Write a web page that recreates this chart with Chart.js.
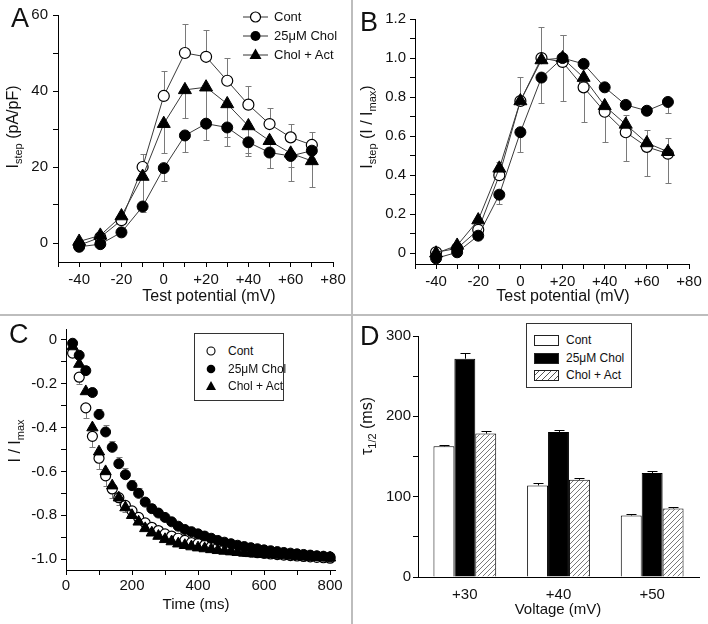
<!DOCTYPE html>
<html><head><meta charset="utf-8">
<script src="https://cdn.jsdelivr.net/npm/chart.js@4.4.1/dist/chart.umd.min.js"></script>
<style>
html,body{margin:0;padding:0;background:#fff;}
body{width:708px;height:624px;position:relative;overflow:hidden;font-family:Arial,"Liberation Sans",Helvetica,sans-serif;color:#111;}
canvas{position:absolute;}
.letter{position:absolute;font-size:27px;line-height:1;color:#111;}
.vdiv{position:absolute;left:351px;top:0;width:2px;height:624px;background:#bdbdbd;}
.hdiv{position:absolute;left:0;top:314px;width:708px;height:2px;background:#bdbdbd;}
.lt{position:absolute;white-space:nowrap;line-height:16px;height:16px;}
svg{position:absolute;overflow:visible;}
.box{position:absolute;border:1px solid #333;box-sizing:border-box;background:#fff;}
.sw{position:absolute;border:1px solid #222;box-sizing:border-box;}
</style>
</head><body>
<canvas id="cA" width="351" height="314" style="left:0;top:0"></canvas>
<canvas id="cB" width="355" height="314" style="left:353px;top:0"></canvas>
<canvas id="cC" width="351" height="308" style="left:0;top:316px"></canvas>
<canvas id="cD" width="355" height="308" style="left:353px;top:316px"></canvas>
<div class="vdiv"></div><div class="hdiv"></div>
<div class="letter" style="left:11px;top:5px">A</div>
<div class="letter" style="left:360px;top:9px">B</div>
<div class="letter" style="left:9px;top:321px">C</div>
<div class="letter" style="left:360px;top:323px">D</div>

<!-- Legend A -->
<svg style="left:243px;top:9px" width="25" height="16"><line x1="0" y1="8" x2="25" y2="8" stroke="#333" stroke-width="1"/><circle cx="12.5" cy="8" r="5" fill="#fff" stroke="#000" stroke-width="1.2"/></svg>
<div class="lt" style="left:274px;top:9px;font-size:13px">Cont</div>
<svg style="left:243px;top:28px" width="25" height="16"><line x1="0" y1="8" x2="25" y2="8" stroke="#333" stroke-width="1"/><circle cx="12.5" cy="8" r="5" fill="#000"/></svg>
<div class="lt" style="left:274px;top:28px;font-size:13px">25μM Chol</div>
<svg style="left:243px;top:47px" width="25" height="16"><line x1="0" y1="8" x2="25" y2="8" stroke="#333" stroke-width="1"/><polygon points="12.5,1.5 18.5,12 6.5,12" fill="#000"/></svg>
<div class="lt" style="left:274px;top:47px;font-size:13px">Chol + Act</div>

<!-- Legend C -->
<div class="box" style="left:194px;top:333px;width:90px;height:68px"></div>
<svg style="left:205px;top:345px" width="12" height="12"><circle cx="6" cy="6" r="4" fill="#fff" stroke="#000" stroke-width="1.1"/></svg>
<div class="lt" style="left:228px;top:343px;font-size:12px">Cont</div>
<svg style="left:205px;top:363px" width="12" height="12"><circle cx="6" cy="6" r="4.3" fill="#000"/></svg>
<div class="lt" style="left:228px;top:361px;font-size:12px">25μM Chol</div>
<svg style="left:205px;top:380px" width="12" height="12"><polygon points="6,1 11,10 1,10" fill="#000"/></svg>
<div class="lt" style="left:228px;top:378px;font-size:12px">Chol + Act</div>

<!-- Legend D -->
<div class="box" style="left:526px;top:323px;width:106px;height:65px"></div>
<div class="sw" style="left:534px;top:335px;width:25px;height:11px;background:#fff"></div>
<div class="lt" style="left:566px;top:332px;font-size:12px">Cont</div>
<div class="sw" style="left:534px;top:353px;width:25px;height:11px;background:#000"></div>
<div class="lt" style="left:566px;top:350px;font-size:12px">25μM Chol</div>
<div class="sw" style="left:534px;top:370px;width:25px;height:11px;background:repeating-linear-gradient(135deg,#fff 0 2.5px,#555 2.5px 3.3px,#fff 3.3px 4.2px)"></div>
<div class="lt" style="left:566px;top:367px;font-size:12px">Chol + Act</div>

<script>
// ---------------- DATA ----------------
// Panels A and B: test potentials (mV)
const voltsAB = [-40,-30,-20,-10,0,10,20,30,40,50,60,70];
// Panel A: I_step (pA/pF)
const contA   = [-0.6,1.5,6,20,38.7,50,49,42.7,36.4,31.3,27.8,25.8];
const contAUp = [0,0,0,3.5,6.5,7.7,7,5.9,5,4.1,3.6,3.5];
const cholA   = [-1,-0.3,2.8,9.6,19.7,28.3,31.4,30.4,26.5,23.8,22.9,24.3];
const cholADn = [0,0,0,1.5,3.5,4.3,4.3,4.8,3.5,4.1,3,2];
const actA    = [0.4,2,7.1,17.5,31.4,40.3,41,36.6,30.8,26.9,23.6,21.6];
const actADn  = [0,0,0,7.2,7.6,7.4,8.5,8.6,7.2,7.2,7.4,6.9];
// Panel B: I_step (I / I_max)
const contB   = [0.005,0.025,0.12,0.40,0.78,1.0,0.98,0.85,0.725,0.62,0.545,0.51];
const contBUp = [0,0,0,0,0.125,0.16,0.14,0,0,0,0,0];
const contBDn = [0,0,0,0,0,0,0.2,0.18,0.155,0.145,0.15,0.15];
const cholB   = [-0.026,0.005,0.09,0.30,0.62,0.90,1.0,0.97,0.85,0.76,0.73,0.775];
const cholBUp = [0,0,0,0,0,0,0.12,0,0,0,0,0];
const cholBDn = [0,0,0,0.05,0.1,0.13,0,0,0,0,0,0.055];
const actB    = [0.0,0.04,0.17,0.435,0.78,0.99,1.0,0.90,0.755,0.66,0.565,0.52];
const actBUp  = [0,0,0,0.035,0,0,0,0,0,0.05,0.065,0.07];
// Panel C: time (ms) and I / I_max
const timeC = [20,40,60,80,100,120,140,160,180,200,220,240,260,280,300,320,340,360,380,400,
               420,440,460,480,500,520,540,560,580,600,620,640,660,680,700,720,740,760,780,800];
const contC = [-0.06,-0.17,-0.31,-0.44,-0.54,-0.62,-0.68,-0.72,-0.755,-0.78,-0.81,-0.835,-0.855,-0.87,-0.885,-0.895,-0.905,-0.915,-0.925,-0.93,
               -0.937,-0.943,-0.948,-0.953,-0.957,-0.961,-0.965,-0.968,-0.971,-0.974,-0.977,-0.98,-0.982,-0.984,-0.986,-0.988,-0.99,-0.992,-0.994,-0.996];
const contCDn = [0,0.03,0.045,0.05,0.05,0.045,0.04,0.035,0.03,0.025,0.02,0.015,0,0,0,0,0,0,0,0,
                 0,0,0,0,0,0,0,0,0,0,0,0,0,0,0,0,0,0,0,0];
const cholC = [-0.015,-0.07,-0.14,-0.24,-0.34,-0.42,-0.49,-0.565,-0.615,-0.665,-0.70,-0.74,-0.77,-0.79,-0.81,-0.83,-0.85,-0.865,-0.875,-0.885,
               -0.895,-0.905,-0.915,-0.923,-0.93,-0.937,-0.943,-0.948,-0.953,-0.958,-0.962,-0.966,-0.97,-0.973,-0.976,-0.979,-0.982,-0.985,-0.987,-0.99];
const cholCUp = [0,0,0.02,0.02,0.025,0.03,0.03,0.03,0.03,0.025,0.025,0.02,0.02,0.02,0.015,0,0,0,0,0,
                 0,0,0,0,0,0,0,0,0,0,0,0,0,0,0,0,0,0,0,0];
const actC  = [-0.03,-0.11,-0.235,-0.40,-0.51,-0.60,-0.665,-0.72,-0.765,-0.80,-0.83,-0.86,-0.88,-0.895,-0.91,-0.92,-0.93,-0.937,-0.943,-0.948,
               -0.952,-0.956,-0.96,-0.963,-0.966,-0.969,-0.972,-0.974,-0.976,-0.978,-0.98,-0.982,-0.984,-0.986,-0.988,-0.99,-0.991,-0.992,-0.993,-0.994];
// Panel D: tau 1/2 (ms)
const voltsD  = ['+30','+40','+50'];
const contD   = [162.7,114,76.6];
const contDEr = [2.1,2.5,1.6];
const cholD   = [271.7,180.6,129.4];
const cholDEr = [7.1,2.4,2.1];
const actD    = [178.5,121,85.3];
const actDEr  = [2.9,1.8,1.3];
// Ticks
const xTicksAB = [-50,-40,-30,-20,-10,0,10,20,30,40,50,60,70,80];
const xMajorAB = [-40,-20,0,20,40,60,80];
const xLabelAB = ['-40','-20','0','+20','+40','+60','+80'];
const yTicksA  = [0,10,20,30,40,50,60];
const yMajorA  = [0,20,40,60];
const yLabelA  = ['0','20','40','60'];
const yTicksB  = [0,0.1,0.2,0.3,0.4,0.5,0.6,0.7,0.8,0.9,1.0,1.1,1.2];
const yMajorB  = [0,0.2,0.4,0.6,0.8,1.0,1.2];
const yLabelB  = ['0','0.2','0.4','0.6','0.8','1.0','1.2'];
const xTicksC  = [0,100,200,300,400,500,600,700,800];
const xMajorC  = [0,200,400,600,800];
const xLabelC  = ['0','200','400','600','800'];
const yTicksC  = [-1.0,-0.9,-0.8,-0.7,-0.6,-0.5,-0.4,-0.3,-0.2,-0.1,0];
const yMajorC  = [-1.0,-0.8,-0.6,-0.4,-0.2,0];
const yLabelC  = ['-1.0','-0.8','-0.6','-0.4','-0.2','0'];
const yTicksD  = [0,50,100,150,200,250,300];
const yMajorD  = [0,100,200,300];
const yLabelD  = ['0','100','200','300'];

// ---------------- HELPERS ----------------
const FONT = 'Arial, "Liberation Sans", Helvetica, sans-serif';
function lab(v, majors, labels){ const i = majors.findIndex(m => Math.abs(m - v) < 1e-6); return i < 0 ? '' : labels[i]; }
function linAxis(o){
  return {
    type:'linear', position:o.pos, min:o.min, max:o.max,
    afterBuildTicks: s => { s.ticks = o.ticks.map(v => ({value:v})); },
    afterFit: s => { if (o.pos === 'left') s.width = o.size; else s.height = o.size; },
    ticks:{autoSkip:false, maxRotation:0, padding:o.pad, color:'#111', font:{family:FONT, size:15},
           callback: v => lab(v, o.majors, o.labels)},
    grid:{drawOnChartArea:false, tickLength:5, color:'#000', tickWidth:1},
    border:{color:'#000', width:1},
    title:{display:false}
  };
}
function pts(xs, ys){ return xs.map((x,i) => ({x:x, y:ys[i]})); }

const errorBars = {
  id:'errorBars',
  beforeDatasetsDraw(chart){
    const ctx = chart.ctx, ys = chart.scales.y;
    chart.data.datasets.forEach((ds, di) => {
      if (!ds.errUp && !ds.errDn) return;
      const meta = chart.getDatasetMeta(di);
      ctx.save(); ctx.strokeStyle = ds.errColor || '#7a7a7a'; ctx.lineWidth = 1;
      meta.data.forEach((el, i) => {
        const d = ds.data[i]; const v = (typeof d === 'object') ? d.y : d;
        const x = Math.round(el.x) + 0.5, cap = ds.errCap || 3;
        [[ds.errUp, 1], [ds.errDn, -1]].forEach(([arr, s]) => {
          if (!arr || !arr[i]) return;
          const y0 = ys.getPixelForValue(v), y1 = Math.round(ys.getPixelForValue(v + s * arr[i])) + 0.5;
          ctx.beginPath(); ctx.moveTo(x, y0); ctx.lineTo(x, y1);
          ctx.moveTo(x - cap, y1); ctx.lineTo(x + cap, y1); ctx.stroke();
        });
      });
      ctx.restore();
    });
  }
};
function textPlugin(items){
  return {
    id:'texts',
    afterDraw(chart){
      const ctx = chart.ctx;
      items.forEach(it => {
        ctx.save(); ctx.translate(it.x, it.y); if (it.rot) ctx.rotate(-Math.PI/2);
        ctx.fillStyle = '#111'; ctx.textBaseline = 'middle'; ctx.textAlign = 'left';
        const big = it.size + 'px ' + FONT, small = Math.round(it.size*0.7) + 'px ' + FONT;
        const ws = it.parts.map(p => { ctx.font = p.s ? small : big; return ctx.measureText(p.t).width; });
        let cx = -ws.reduce((a,b) => a+b, 0) / 2;
        it.parts.forEach((p, k) => { ctx.font = p.s ? small : big; ctx.fillText(p.t, cx, p.s ? it.size*0.28 : 0); cx += ws[k]; });
        ctx.restore();
      });
    }
  };
}
const base = {responsive:false, animation:false, events:[], plugins:{legend:{display:false}, tooltip:{enabled:false}}};
function ptsDs(label, data, style, extra){
  return Object.assign({label, data, showLine:true, borderColor:'#3a3a3a', borderWidth:1, clip:false,
    pointStyle: style.ps, pointRadius: style.r, pointBackgroundColor: style.fill, pointBorderColor:'#000',
    pointBorderWidth: style.bw}, extra);
}
const OPEN = {ps:'circle', r:5.5, fill:'#fff', bw:1.2};
const FILL = {ps:'circle', r:5.5, fill:'#000', bw:1};
const TRI  = {ps:'triangle', r:7.5, fill:'#000', bw:1};

// ---------------- PANEL A ----------------
new Chart(document.getElementById('cA'), {
  type:'line',
  data:{datasets:[
    ptsDs('Cont', pts(voltsAB, contA), OPEN, {order:3, errUp:contAUp}),
    ptsDs('25μM Chol', pts(voltsAB, cholA), FILL, {order:2, errDn:cholADn}),
    ptsDs('Chol + Act', pts(voltsAB, actA), TRI, {order:1, errDn:actADn})
  ]},
  options:Object.assign({}, base, {
    layout:{padding:{left:0, top:15, right:18, bottom:0}},
    scales:{
      x: linAxis({pos:'bottom', min:-50, max:80, ticks:xTicksAB, majors:xMajorAB, labels:xLabelAB, size:52, pad:4}),
      y: linAxis({pos:'left', min:-5, max:60, ticks:yTicksA, majors:yMajorA, labels:yLabelA, size:58, pad:5})
    }
  }),
  plugins:[errorBars, textPlugin([
    {x:209, y:297, size:16, parts:[{t:'Test potential (mV)'}]},
    {x:14, y:127, size:16, rot:true, parts:[{t:'I'},{t:'step', s:true},{t:' (pA/pF)'}]}
  ])]
});

// ---------------- PANEL B ----------------
new Chart(document.getElementById('cB'), {
  type:'line',
  data:{datasets:[
    ptsDs('Cont', pts(voltsAB, contB), OPEN, {order:3, errUp:contBUp, errDn:contBDn}),
    ptsDs('25μM Chol', pts(voltsAB, cholB), FILL, {order:2, errUp:cholBUp, errDn:cholBDn}),
    ptsDs('Chol + Act', pts(voltsAB, actB), TRI, {order:1, errUp:actBUp})
  ]},
  options:Object.assign({}, base, {
    layout:{padding:{left:0, top:19, right:19, bottom:0}},
    scales:{
      x: linAxis({pos:'bottom', min:-50, max:80, ticks:xTicksAB, majors:xMajorAB, labels:xLabelAB, size:50, pad:4}),
      y: linAxis({pos:'left', min:-0.055, max:1.2, ticks:yTicksB, majors:yMajorB, labels:yLabelB, size:62, pad:4})
    }
  }),
  plugins:[errorBars, textPlugin([
    {x:210, y:297, size:16, parts:[{t:'Test potential (mV)'}]},
    {x:15, y:127, size:16, rot:true, parts:[{t:'I'},{t:'step', s:true},{t:' (I / I'},{t:'max', s:true},{t:')'}]}
  ])]
});

// ---------------- PANEL C ----------------
new Chart(document.getElementById('cC'), {
  type:'scatter',
  data:{datasets:[
    {label:'Cont', data:pts(timeC, contC), order:3, errDn:contCDn, clip:false, pointStyle:'circle', pointRadius:5, pointBackgroundColor:'#fff', pointBorderColor:'#000', pointBorderWidth:1.2},
    {label:'25μM Chol', data:pts(timeC, cholC), order:2, errUp:cholCUp, clip:false, pointStyle:'circle', pointRadius:5, pointBackgroundColor:'#000', pointBorderColor:'#000', pointBorderWidth:1},
    {label:'Chol + Act', data:pts(timeC, actC), order:1, clip:false, pointStyle:'triangle', pointRadius:6.5, pointBackgroundColor:'#000', pointBorderColor:'#000', pointBorderWidth:1}
  ]},
  options:Object.assign({}, base, {
    layout:{padding:{left:0, top:9, right:16, bottom:0}},
    scales:{
      x: linAxis({pos:'bottom', min:0, max:815, ticks:xTicksC, majors:xMajorC, labels:xLabelC, size:54, pad:2}),
      y: linAxis({pos:'left', min:-1.05, max:0.05, ticks:yTicksC, majors:yMajorC, labels:yLabelC, size:66, pad:4})
    }
  }),
  plugins:[errorBars, textPlugin([
    {x:196, y:289, size:15, parts:[{t:'Time (ms)'}]},
    {x:16, y:125, size:16, rot:true, parts:[{t:'I / I'},{t:'max', s:true}]}
  ])]
});

// ---------------- PANEL D ----------------
function hatch(){
  const c = document.createElement('canvas'); c.width = 5; c.height = 5;
  const g = c.getContext('2d'); g.fillStyle = '#fff'; g.fillRect(0,0,5,5);
  g.strokeStyle = '#555'; g.lineWidth = 0.8;
  g.beginPath(); g.moveTo(-1,6); g.lineTo(6,-1); g.moveTo(-1,1); g.lineTo(1,-1); g.moveTo(4,6); g.lineTo(6,4); g.stroke();
  return g.createPattern(c, 'repeat');
}
new Chart(document.getElementById('cD'), {
  type:'bar',
  data:{labels:voltsD, datasets:[
    {label:'Cont', data:contD, errUp:contDEr, errColor:'#000', errCap:5, backgroundColor:'#fff', borderColor:'#000', borderWidth:1},
    {label:'25μM Chol', data:cholD, errUp:cholDEr, errColor:'#000', errCap:5, backgroundColor:'#000', borderColor:'#000', borderWidth:1},
    {label:'Chol + Act', data:actD, errUp:actDEr, errColor:'#000', errCap:5, backgroundColor:hatch(), borderColor:'#000', borderWidth:1}
  ]},
  options:Object.assign({}, base, {
    barPercentage:1.0, categoryPercentage:0.67,
    layout:{padding:{left:0, top:20, right:9, bottom:0}},
    scales:{
      x:{type:'category', offset:true, afterFit: s => { s.height = 47; },
         ticks:{padding:9, color:'#111', font:{family:FONT, size:15}},
         grid:{drawOnChartArea:false, drawTicks:false}, border:{color:'#000', width:1}},
      y: linAxis({pos:'left', min:0, max:300, ticks:yTicksD, majors:yMajorD, labels:yLabelD, size:65, pad:2})
    }
  }),
  plugins:[errorBars, textPlugin([
    {x:205, y:294, size:15, parts:[{t:'Voltage (mV)'}]},
    {x:15, y:110, size:16, rot:true, parts:[{t:'τ'},{t:'1/2', s:true},{t:' (ms)'}]}
  ])]
});
</script>
</body></html>
